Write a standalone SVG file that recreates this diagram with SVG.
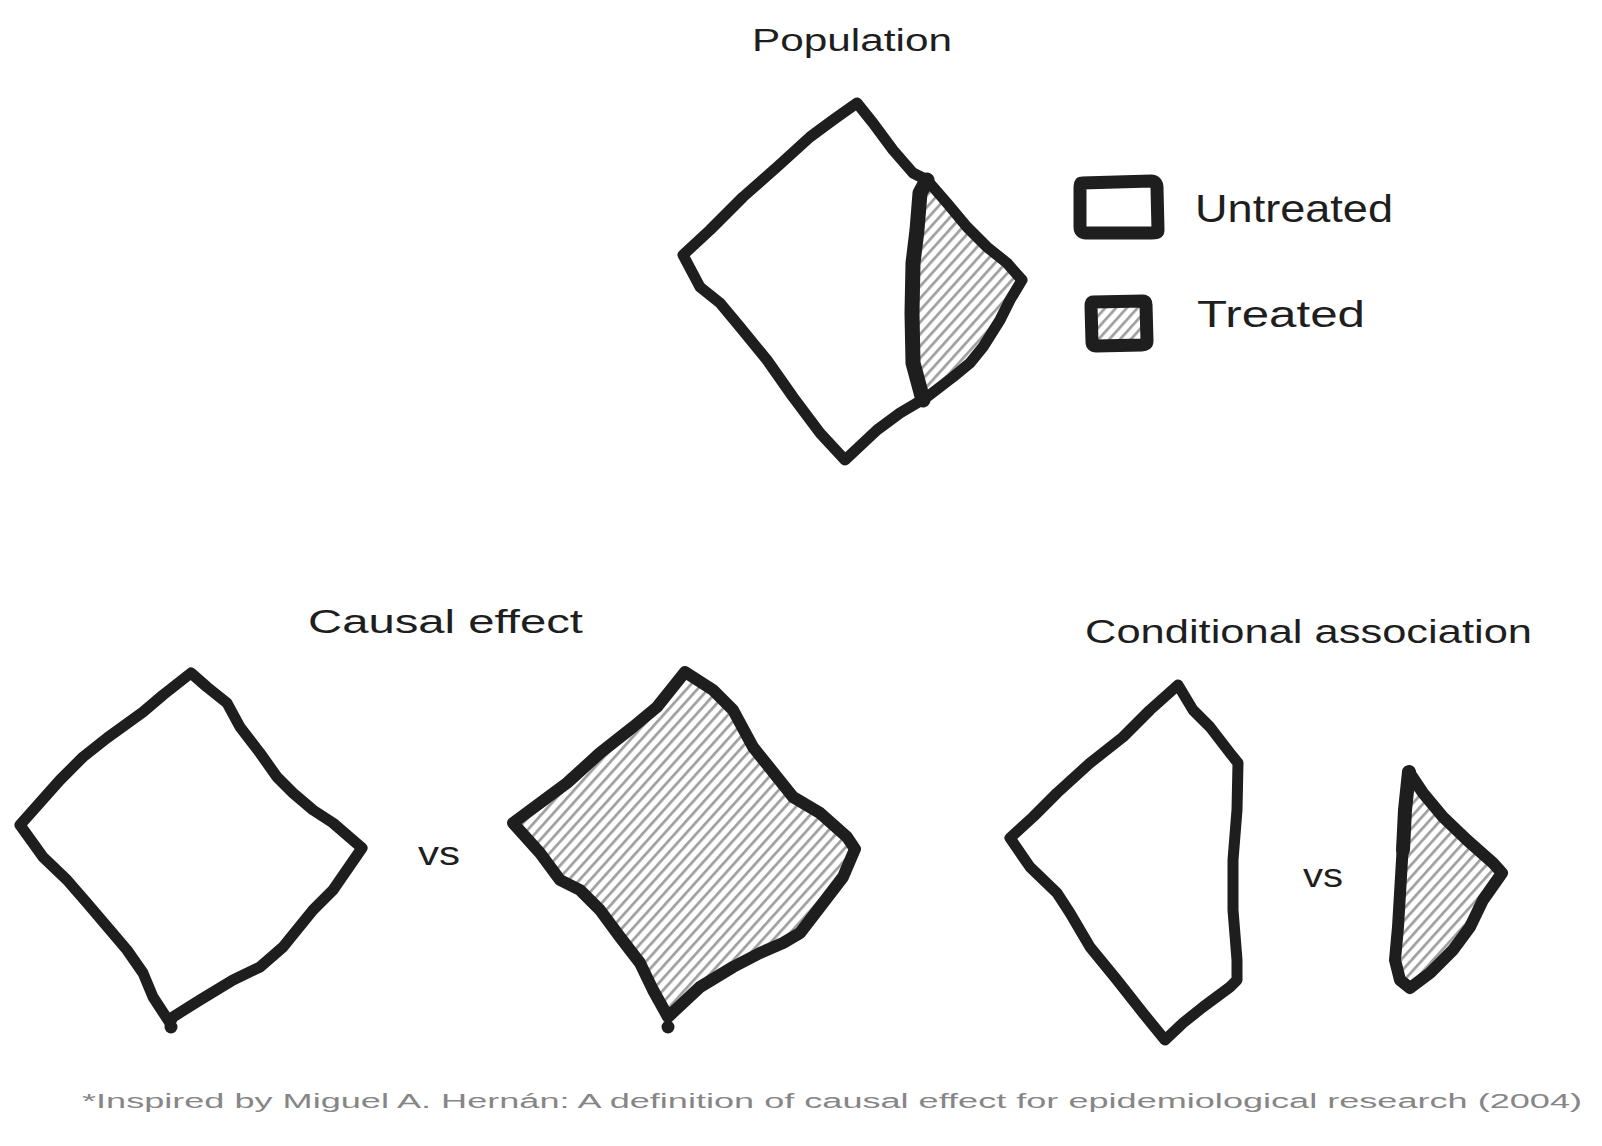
<svg xmlns="http://www.w3.org/2000/svg" width="1602" height="1146" viewBox="0 0 1602 1146">
<defs>
<pattern id="hatch" patternUnits="userSpaceOnUse" width="8" height="12" patternTransform="rotate(42)">
<line x1="3" y1="-2" x2="3" y2="14" stroke="#1e1e1e" stroke-width="0.8"/>
<line x1="4.3" y1="-2" x2="4.3" y2="14" stroke="#1e1e1e" stroke-width="0.4"/>
</pattern>
<style>
.ol{fill:none;stroke:#1e1e1e;stroke-width:11;stroke-linejoin:round;stroke-linecap:round}
.hf{fill:url(#hatch);stroke:none}
.t{font-family:"Liberation Sans","Noto Sans",sans-serif;fill:#1e1e1e}
.fn{font-family:"Liberation Sans","Noto Sans",sans-serif;fill:#868686}
</style>
</defs>
<rect width="1602" height="1146" fill="#ffffff"/>

<g id="population-title"><text class="t" x="752" y="51" font-size="31" textLength="200" lengthAdjust="spacingAndGlyphs">Population</text></g>

<g id="population">
<path class="hf" d="M927,180 L947,203 L967,227 L987,247 L1007,263 L1022,280 L1010,300 L1000,320 L983,347 L970,363 L953,377 L923,400 L913,363 L912,313 L913,263 L917,230 L920,193 Z"/>
<path class="ol" d="M857,103 L873,123 L893,150 L913,173 L927,180 L947,203 L967,227 L987,247 L1007,263 L1022,280 L1010,300 L1000,320 L983,347 L970,363 L953,377 L927,397 L900,413 L877,430 L845,460 L820,433 L793,397 L767,360 L740,327 L720,303 L700,287 L683,255 L710,230 L743,197 L777,167 L810,137 L833,120 Z"/>
<path class="ol" style="stroke-width:15" d="M927,180 L920,193 L917,230 L913,263 L912,313 L913,363 L923,400"/>
</g>

<g id="legend-untreated">
<path class="ol" style="stroke-width:13" d="M1082,183 L1151,181 Q1157,181 1157,188 L1158,230 Q1158,233 1152,233 L1086,233 Q1080,233 1080,227 L1080,188 Q1080,183 1082,183 Z"/>
<text class="t" x="1195" y="222" font-size="38" textLength="198" lengthAdjust="spacingAndGlyphs">Untreated</text>
</g>

<g id="legend-treated">
<path class="hf" d="M1092,302 L1145,301 L1146,344 L1092,345 Z"/>
<path class="ol" style="stroke-width:13" d="M1093,302 L1143,301 Q1146,301 1146,305 L1147,341 Q1147,345 1142,345 L1096,346 Q1092,346 1092,342 L1091,306 Q1091,302 1093,302 Z"/>
<text class="t" x="1197" y="327" font-size="36" textLength="168" lengthAdjust="spacingAndGlyphs">Treated</text>
</g>

<g id="causal-title"><text class="t" x="308" y="633" font-size="34" textLength="275" lengthAdjust="spacingAndGlyphs">Causal effect</text></g>

<g id="causal-untreated">
<path class="ol" d="M191,673 L163,695 L143,712 L107,738 L83,757 L60,780 L20,825 L43,857 L67,880 L87,903 L110,930 L127,950 L143,973 L153,997 L170,1023 L173,1017 L200,1000 L233,980 L260,967 L283,947 L313,910 L333,890 L362,848 L333,823 L313,810 L293,793 L277,777 L260,753 L240,727 L227,703 L207,687 Z"/>
<circle cx="171" cy="1027" r="6.5" fill="#1e1e1e"/>
</g>

<g id="vs-causal"><text class="t" x="418" y="865" font-size="34" textLength="42" lengthAdjust="spacingAndGlyphs">vs</text></g>

<g id="causal-treated">
<path class="hf" d="M685,672 L713,690 L733,710 L753,747 L777,777 L793,797 L820,813 L847,837 L855,849 L843,877 L820,907 L800,933 L783,943 L760,953 L733,967 L700,987 L668,1017 L653,990 L640,963 L620,937 L600,910 L580,890 L560,880 L540,853 L513,823 L540,803 L567,783 L600,753 L633,727 L657,707 Z"/>
<path class="ol" style="stroke-width:12" d="M685,672 L713,690 L733,710 L753,747 L777,777 L793,797 L820,813 L847,837 L855,849 L843,877 L820,907 L800,933 L783,943 L760,953 L733,967 L700,987 L668,1017 L653,990 L640,963 L620,937 L600,910 L580,890 L560,880 L540,853 L513,823 L540,803 L567,783 L600,753 L633,727 L657,707 Z"/>
<circle cx="668" cy="1027" r="6.5" fill="#1e1e1e"/>
</g>

<g id="conditional-title"><text class="t" x="1085" y="643" font-size="34" textLength="447" lengthAdjust="spacingAndGlyphs">Conditional association</text></g>

<g id="conditional-untreated">
<path class="ol" d="M1178,685 L1193,710 L1210,727 L1230,753 L1238,763 L1237,810 L1233,860 L1233,910 L1237,960 L1237,980 L1230,987 L1203,1007 L1183,1023 L1165,1040 L1143,1013 L1117,980 L1090,947 L1070,913 L1057,893 L1030,867 L1010,838 L1033,817 L1057,793 L1090,763 L1123,737 L1150,710 Z"/>
</g>

<g id="vs-conditional"><text class="t" x="1303" y="887" font-size="34" textLength="40" lengthAdjust="spacingAndGlyphs">vs</text></g>

<g id="conditional-treated">
<path class="hf" d="M1409,772 L1423,793 L1443,817 L1467,840 L1493,863 L1502,873 L1483,900 L1470,927 L1453,950 L1430,973 L1410,988 L1400,980 L1395,960 L1398,927 L1402,860 L1405,810 Z"/>
<path class="ol" style="stroke-width:12" d="M1409,772 L1423,793 L1443,817 L1467,840 L1493,863 L1502,873 L1483,900 L1470,927 L1453,950 L1430,973 L1410,988 L1400,980 L1395,960 L1398,927 L1402,860 L1405,810 Z"/>
<path class="ol" style="stroke-width:14" d="M1409,772 L1405,810 L1403,850"/>
</g>

<g id="footnote"><text class="fn" x="82" y="1108" font-size="20" textLength="1500" lengthAdjust="spacingAndGlyphs">*Inspired by Miguel A. Hernán: A definition of causal effect for epidemiological research (2004)</text></g>
</svg>
